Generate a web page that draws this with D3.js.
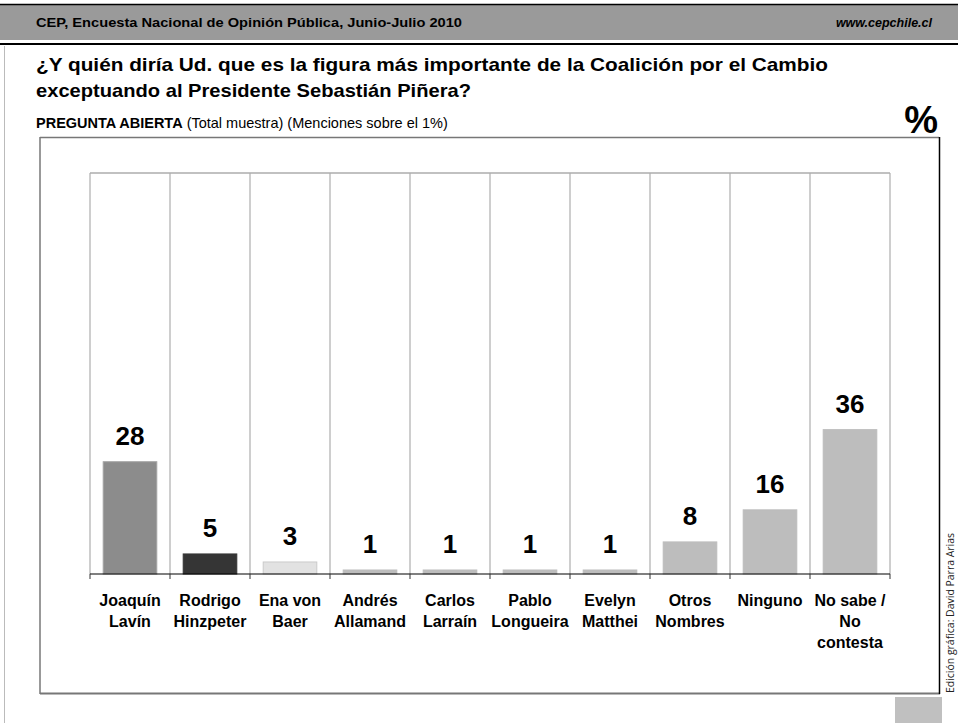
<!DOCTYPE html>
<html>
<head>
<meta charset="utf-8">
<script src="https://cdn.jsdelivr.net/npm/d3@7"></script>
<style>
  body { margin: 0; background: #fff; }
  svg { display: block; font-family: "Liberation Sans", Arial, sans-serif; }
</style>
</head>
<body>
<div id="chart"></div>
<script>
const w = 959,
      h = 723;

// data
const categories = ["Joaquín Lavín", "Rodrigo Hinzpeter", "Ena von Baer", "Andrés Allamand",
                    "Carlos Larraín", "Pablo Longueira", "Evelyn Matthei", "Otros Nombres",
                    "Ninguno", "No sabe / No contesta"];
const labelLines = [["Joaquín", "Lavín"], ["Rodrigo", "Hinzpeter"], ["Ena von", "Baer"],
                    ["Andrés", "Allamand"], ["Carlos", "Larraín"], ["Pablo", "Longueira"],
                    ["Evelyn", "Matthei"], ["Otros", "Nombres"], ["Ninguno"],
                    ["No sabe /", "No", "contesta"]];
const values = [28, 5, 3, 1, 1, 1, 1, 8, 16, 36];
const barFills = ["#8c8c8c", "#353535", "#e2e2e2", "#bdbdbd", "#bdbdbd",
                  "#bdbdbd", "#bdbdbd", "#bdbdbd", "#bdbdbd", "#bdbdbd"];
const barStrokes = ["#a4a4a4", "#353535", "#cacaca", "#bdbdbd", "#bdbdbd",
                    "#bdbdbd", "#bdbdbd", "#bdbdbd", "#bdbdbd", "#bdbdbd"];

const plot = {left: 90, right: 890, top: 173, bottom: 574};

const svg = d3.select("#chart")
    .append("svg")
    .attr("width", w)
    .attr("height", h);

// header band
svg.append("rect")
    .attr("x", 0).attr("y", 4)
    .attr("width", 958).attr("height", 36)
    .style("fill", "#9a9a9a");
svg.append("line")
    .attr("x1", 0).attr("x2", 958).attr("y1", 4.5).attr("y2", 4.5)
    .style("stroke", "#000").style("stroke-width", 1.5);
svg.append("line")
    .attr("x1", 0).attr("x2", 958).attr("y1", 44).attr("y2", 44)
    .style("stroke", "#000").style("stroke-width", 2);
svg.append("line")
    .attr("x1", 4.5).attr("x2", 4.5).attr("y1", 46).attr("y2", h)
    .style("stroke", "#bbb").style("stroke-width", 1);

svg.append("text")
    .attr("x", 36).attr("y", 27)
    .attr("textLength", 426).attr("lengthAdjust", "spacingAndGlyphs")
    .style("font-size", "12.5px").style("font-weight", "bold")
    .text("CEP, Encuesta Nacional de Opinión Pública, Junio-Julio 2010");
svg.append("text")
    .attr("x", 932).attr("y", 27)
    .attr("text-anchor", "end")
    .style("font-size", "12.5px").style("font-weight", "bold").style("font-style", "italic")
    .text("www.cepchile.cl");

// title
svg.append("text")
    .attr("x", 36).attr("y", 71)
    .attr("textLength", 792).attr("lengthAdjust", "spacingAndGlyphs")
    .style("font-size", "19px").style("font-weight", "bold")
    .text("¿Y quién diría Ud. que es la figura más importante de la Coalición por el Cambio");
svg.append("text")
    .attr("x", 36).attr("y", 97)
    .attr("textLength", 435).attr("lengthAdjust", "spacingAndGlyphs")
    .style("font-size", "19px").style("font-weight", "bold")
    .text("exceptuando al Presidente Sebastián Piñera?");

const sub = svg.append("text")
    .attr("x", 36).attr("y", 128)
    .style("font-size", "14.5px");
sub.append("tspan").style("font-weight", "bold").text("PREGUNTA ABIERTA");
sub.append("tspan").text(" (Total muestra) (Menciones sobre el 1%)");

svg.append("text")
    .attr("x", 938).attr("y", 133)
    .attr("text-anchor", "end")
    .style("font-size", "38px").style("font-weight", "bold")
    .text("%");

// chart box
svg.append("line")
    .attr("x1", 40).attr("x2", 939).attr("y1", 137.5).attr("y2", 137.5)
    .style("stroke", "#777").style("stroke-width", 1.5);
svg.append("line")
    .attr("x1", 40).attr("x2", 40).attr("y1", 137).attr("y2", 694)
    .style("stroke", "#777").style("stroke-width", 1.5);
svg.append("line")
    .attr("x1", 40).attr("x2", 940).attr("y1", 693.5).attr("y2", 693.5)
    .style("stroke", "#777").style("stroke-width", 2);
svg.append("line")
    .attr("x1", 939.5).attr("x2", 939.5).attr("y1", 137).attr("y2", 694)
    .style("stroke", "#000").style("stroke-width", 1.5);

// scales
let xScale = d3.scaleBand()
    .domain(categories)
    .range([plot.left, plot.right])
    .paddingInner(0.33)
    .paddingOuter(0.165);

let yScale = d3.scaleLinear()
    .domain([0, 100])
    .range([plot.bottom, plot.top]);

// band boundaries for grid lines
const step = xScale.step();
const bounds = d3.range(categories.length + 1).map(i => plot.left + i * step);

svg.append("g")
    .selectAll("line")
    .data(bounds)
    .enter()
    .append("line")
    .attr("x1", d => d).attr("x2", d => d)
    .attr("y1", yScale(100)).attr("y2", yScale(0))
    .style("stroke", "#adadad").style("stroke-width", 1.2);
svg.append("line")
    .attr("x1", plot.left).attr("x2", plot.right)
    .attr("y1", yScale(100)).attr("y2", yScale(100))
    .style("stroke", "#adadad").style("stroke-width", 1.5);

// bars
svg.selectAll("rect.bar")
    .data(values)
    .enter()
    .append("rect")
    .attr("class", "bar")
    .attr("x", (d, i) => xScale(categories[i]))
    .attr("y", d => yScale(d))
    .attr("width", xScale.bandwidth())
    .attr("height", d => yScale(0) - yScale(d))
    .style("fill", (d, i) => barFills[i])
    .style("stroke", (d, i) => barStrokes[i])
    .style("stroke-width", 1);

// axis
svg.append("line")
    .attr("x1", plot.left).attr("x2", plot.right)
    .attr("y1", yScale(0)).attr("y2", yScale(0))
    .style("stroke", "#000").style("stroke-width", 1.2);
svg.append("g")
    .selectAll("line")
    .data(bounds)
    .enter()
    .append("line")
    .attr("x1", d => d).attr("x2", d => d)
    .attr("y1", yScale(0)).attr("y2", yScale(0) + 5)
    .style("stroke", "#333").style("stroke-width", 1);

// value labels
svg.selectAll("text.val")
    .data(values)
    .enter()
    .append("text")
    .attr("class", "val")
    .attr("x", (d, i) => xScale(categories[i]) + xScale.bandwidth() / 2)
    .attr("y", d => yScale(d) - 17)
    .attr("text-anchor", "middle")
    .style("font-size", "26px").style("font-weight", "bold")
    .text(d => d);

// category labels
const catLabels = svg.selectAll("text.cat")
    .data(labelLines)
    .enter()
    .append("text")
    .attr("class", "cat")
    .attr("text-anchor", "middle")
    .style("font-size", "16px").style("font-weight", "bold");
catLabels.selectAll("tspan")
    .data((d, i) => d.map(t => ({t: t, i: i})))
    .enter()
    .append("tspan")
    .attr("x", d => xScale(categories[d.i]) + xScale.bandwidth() / 2)
    .attr("y", (d, j) => 606 + j * 21)
    .text(d => d.t);

// corner block and credit
svg.append("rect")
    .attr("x", 895).attr("y", 697)
    .attr("width", 47).attr("height", 26)
    .style("fill", "#c0c0c0");
svg.append("text")
    .attr("transform", "translate(954, 693) rotate(-90)")
    .attr("textLength", 160).attr("lengthAdjust", "spacingAndGlyphs")
    .style("font-family", "'Open Sans', sans-serif")
    .style("font-size", "10px").style("fill", "#222")
    .text("Edición gráfica: David Parra Arias");
</script>
</body>
</html>
